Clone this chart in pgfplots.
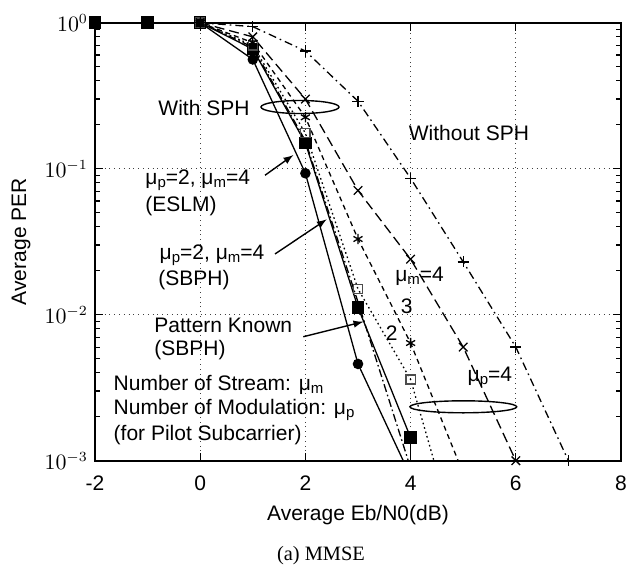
\documentclass[border=0pt]{standalone}
\usepackage{fontspec}
\setmainfont{Liberation Sans}
\newfontfamily\timesfont{Liberation Serif}
\usepackage{pgfplots}
\pgfplotsset{compat=1.18}
% small letter after mu (mu_p, mu_m)
\newcommand{\sub}[1]{\raisebox{-0.25ex}{\fontsize{7.5}{8}\selectfont #1}}

\begin{document}
\begin{tikzpicture}[font=\fontsize{10.5}{12.5}\selectfont]
\begin{axis}[
    name=ax,
    scale only axis,
    width=263pt,
    height=219pt,
    ymode=log,
    xmin=-2, xmax=8,
    ymin=1e-3, ymax=1,
    xtick={-2,0,2,4,6,8},
    ytick={1e-3,1e-2,1e-1,1},
    grid=major,
    grid style={dotted, black!75, line width=0.5pt},
    axis line style={line width=1pt},
    tick style={black, line width=0.6pt},
    major tick length=4pt,
    minor tick length=2.5pt,
    xticklabel style={/pgf/number format/assume math mode=true, yshift=-4pt},
    xlabel={Average Eb/N0(dB)},
    ylabel={Average PER},
    xlabel style={at={(axis description cs:0.5,-0.1233)}, anchor=center},
    ylabel style={at={(axis description cs:-0.1407,0.5)}, anchor=center},
    every axis plot/.append style={line width=0.65pt, black},
]
% ESLM: solid, filled circles
\addplot[solid, mark=*, mark size=2.3pt] coordinates {
    (-2,1) (-1,1) (0,1) (1,0.56) (2,0.093) (3,0.0046) (4,0.00078)
};
% Pattern known: solid, filled squares
\addplot[solid, mark=square*, mark size=2.8pt] coordinates {
    (-2,1) (-1,1) (0,1) (1,0.66) (2,0.15) (3,0.0112) (4,0.00144)
};
\addplot[solid] coordinates { (4,0.00144) (4,0.0001) };
% mu_p=2, mu_m=4 (SBPH): dash-dot, no marks
\addplot[dash pattern=on 4pt off 1.5pt on 0.8pt off 1.5pt] coordinates {
    (0,1) (1,0.68) (2,0.155) (3,0.0122) (4,0.00089)
};
% mu_m=2: dotted, open squares
\addplot[dash pattern=on 0.8pt off 1.5pt, mark=square, mark size=2.3pt, mark options={solid, black!70}] coordinates {
    (0,1) (1,0.70) (2,0.175) (3,0.015) (4,0.0036) (5,0.0002)
};
% mu_m=3: short dashes, asterisks
\addplot[dash pattern=on 2.5pt off 2pt, mark=asterisk, mark size=2.6pt, mark options={solid}] coordinates {
    (0,1) (1,0.73) (2,0.225) (3,0.033) (4,0.0064) (5,0.00082)
};
% mu_m=4: long dashes, crosses
\addplot[dash pattern=on 5pt off 2.5pt, mark=x, mark size=3pt, mark options={solid}] coordinates {
    (0,1) (1,0.8) (2,0.30) (3,0.071) (4,0.024) (5,0.006) (6,0.001)
};
% without SPH: dash-dot, plus
\addplot[dash pattern=on 4pt off 2pt on 0.8pt off 2pt, mark=+, mark size=2.8pt, mark options={solid}] coordinates {
    (0,1) (1,0.94) (2,0.64) (3,0.29) (4,0.086) (5,0.023) (6,0.006) (7,0.001)
};

% annotations
\draw[line width=0.7pt] (axis cs:1.897,0.2646) ellipse [x radius=19.5pt, y radius=3.25pt];
\node at (axis cs:0.072,0.2606) {With SPH};
\node at (axis cs:5.11,0.176) {Without SPH};

\node[anchor=west, inner sep=0pt] at (axis cs:-1.049,0.0837) {μ\sub{p}=2, μ\sub{m}=4};
\node[anchor=west, inner sep=0pt] at (axis cs:-1.049,0.0555) {(ESLM)};
\draw[-latex, line width=0.7pt] (axis cs:1.232,0.0902) -- (axis cs:1.770,0.124);

\node[anchor=west, inner sep=0pt] at (axis cs:-0.777,0.02564) {μ\sub{p}=2, μ\sub{m}=4};
\node[anchor=west, inner sep=0pt] at (axis cs:-0.802,0.01723) {(SBPH)};
\draw[-latex, line width=0.7pt] (axis cs:1.422,0.02606) -- (axis cs:2.405,0.0450);

\node[anchor=west, inner sep=0pt] at (axis cs:-0.878,0.0085) {Pattern Known};
\node[anchor=west, inner sep=0pt] at (axis cs:-0.878,0.00573) {(SBPH)};
\draw[-latex, line width=0.7pt] (axis cs:1.960,0.007068) -- (axis cs:3.101,0.008954);

\node[anchor=west, inner sep=0pt] at (axis cs:-1.652,0.0033) {Number of Stream: μ\sub{m}};
\node[anchor=west, inner sep=0pt] at (axis cs:-1.652,0.002225) {Number of Modulation: μ\sub{p}};
\node[anchor=west, inner sep=0pt] at (axis cs:-1.652,0.0015) {(for Pilot Subcarrier)};

\node[anchor=west, inner sep=0pt] at (axis cs:3.703,0.01821) {μ\sub{m}=4};
\node at (axis cs:3.926,0.01147) {3};
\node at (axis cs:3.641,0.00752) {2};
\node[anchor=west, inner sep=0pt] at (axis cs:5.078,0.003725) {μ\sub{p}=4};
\draw[line width=0.7pt] (axis cs:5.002,0.00234) ellipse [x radius=26.7pt, y radius=3pt];
\end{axis}
\node[font=\timesfont\fontsize{10.2}{12}\selectfont] at ([shift={(113pt,-47.2pt)}]ax.south west) {(a) MMSE};
\pgfresetboundingbox
\useasboundingbox ([shift={(-47.5pt,-56.15pt)}]ax.south west) rectangle ([shift={(4.5pt,11.35pt)}]ax.north east);
\end{tikzpicture}
\end{document}
